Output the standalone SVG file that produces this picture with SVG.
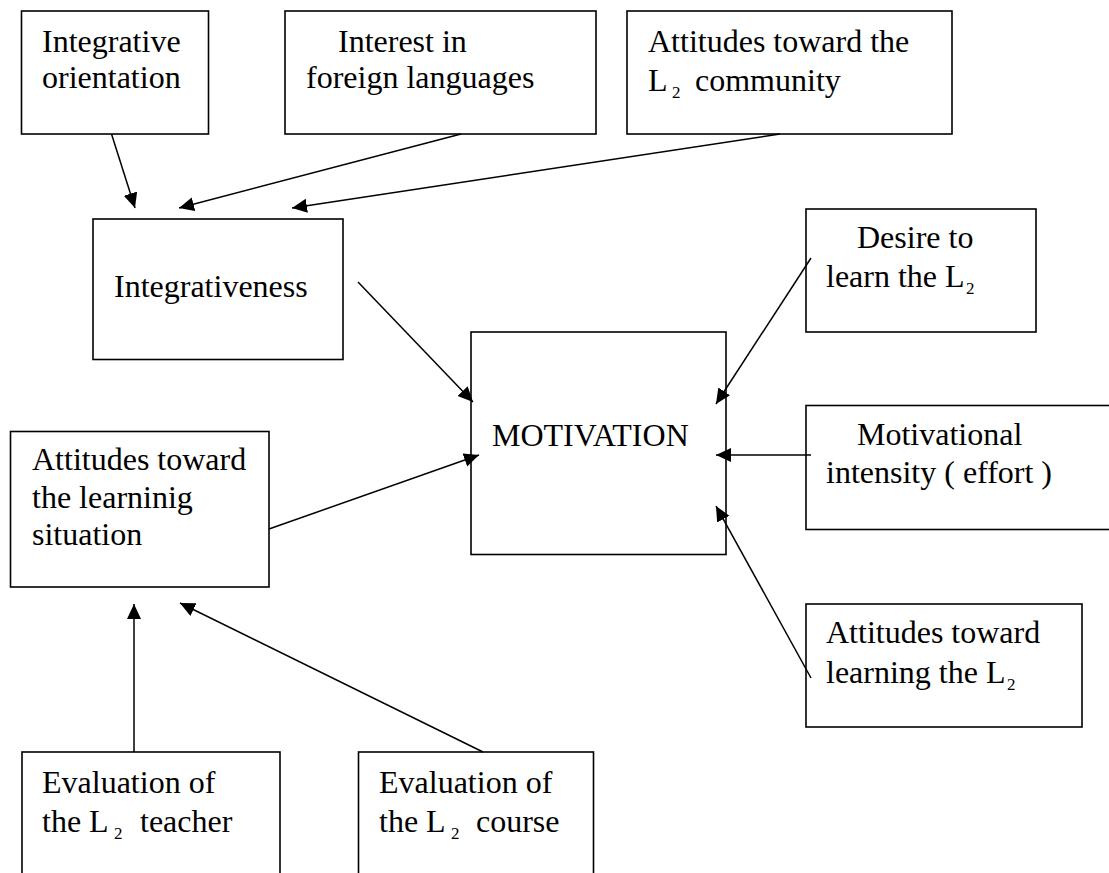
<svg xmlns="http://www.w3.org/2000/svg" width="1109" height="873" viewBox="0 0 1109 873">
<style>
.box{fill:#fff;stroke:#000;stroke-width:1.6}
.t{font-family:'Liberation Serif','Times New Roman',serif;font-size:32px;fill:#000}
.s{font-family:'Liberation Serif','Times New Roman',serif;font-size:17px;fill:#000}
.c{stroke:#000;stroke-width:1.5;fill:none;marker-end:url(#ah)}
</style>
<defs>
<marker id="ah" markerUnits="userSpaceOnUse" markerWidth="16" markerHeight="15" refX="15" refY="7" orient="auto">
<path d="M0,0 L15,7 L0,14 z" fill="#000"/>
</marker>
</defs>
<rect width="1109" height="873" fill="#fff"/>
<g id="n-integrative-orientation">
<rect class="box" x="21.5" y="11" width="187" height="123"/>
<text class="t" x="42" y="52">Integrative</text>
<text class="t" x="42" y="88">orientation</text>
</g>
<g id="n-interest">
<rect class="box" x="285" y="11" width="311" height="123"/>
<text class="t" x="338" y="52">Interest in</text>
<text class="t" x="306" y="88">foreign languages</text>
</g>
<g id="n-community">
<rect class="box" x="627" y="11" width="325" height="123"/>
<text class="t" x="648" y="52">Attitudes toward the</text>
<text class="t" x="648" y="91">L</text>
<text class="s" x="672" y="98">2</text>
<text class="t" x="695" y="91">community</text>
</g>
<g id="n-integrativeness">
<rect class="box" x="93" y="219" width="250" height="140.5"/>
<text class="t" x="114" y="297">Integrativeness</text>
</g>
<g id="n-motivation">
<rect class="box" x="471" y="332" width="255" height="222.5"/>
<text class="t" x="492" y="446">MOTIVATION</text>
</g>
<g id="n-situation">
<rect class="box" x="10.5" y="431.5" width="258.5" height="155.5"/>
<text class="t" x="32" y="470">Attitudes toward</text>
<text class="t" x="32" y="508">the learninig</text>
<text class="t" x="32" y="545">situation</text>
</g>
<g id="n-desire">
<rect class="box" x="806" y="209" width="230" height="123"/>
<text class="t" x="857" y="248">Desire to</text>
<text class="t" x="826" y="287">learn the L</text>
<text class="s" x="966" y="294">2</text>
</g>
<g id="n-intensity">
<rect class="box" x="806" y="405.5" width="330" height="124"/>
<text class="t" x="857" y="445">Motivational</text>
<text class="t" x="826" y="483">intensity ( effort )</text>
</g>
<g id="n-attitudes-learning">
<rect class="box" x="806" y="604" width="276" height="123"/>
<text class="t" x="826" y="643">Attitudes toward</text>
<text class="t" x="826" y="683">learning the L</text>
<text class="s" x="1007" y="690">2</text>
</g>
<g id="n-teacher">
<rect class="box" x="22" y="752" width="258" height="140"/>
<text class="t" x="42" y="793">Evaluation of</text>
<text class="t" x="42" y="832">the L</text>
<text class="s" x="114" y="839">2</text>
<text class="t" x="140" y="832">teacher</text>
</g>
<g id="n-course">
<rect class="box" x="358.5" y="752" width="235" height="140"/>
<text class="t" x="379" y="793">Evaluation of</text>
<text class="t" x="379" y="832">the L</text>
<text class="s" x="451" y="839">2</text>
<text class="t" x="476" y="832">course</text>
</g>
<g id="connectors">
<line class="c" x1="111.5" y1="134" x2="135" y2="208"/>
<line class="c" x1="461" y1="134" x2="179" y2="208"/>
<line class="c" x1="780" y1="134" x2="292" y2="208"/>
<line class="c" x1="358" y1="282" x2="473" y2="402"/>
<line class="c" x1="269" y1="529" x2="479" y2="455"/>
<line class="c" x1="811" y1="258" x2="716" y2="404"/>
<line class="c" x1="811" y1="455" x2="716" y2="455"/>
<line class="c" x1="811" y1="678" x2="716" y2="506"/>
<line class="c" x1="134" y1="752" x2="134" y2="604"/>
<line class="c" x1="483" y1="752" x2="180" y2="603"/>
</g>
</svg>
